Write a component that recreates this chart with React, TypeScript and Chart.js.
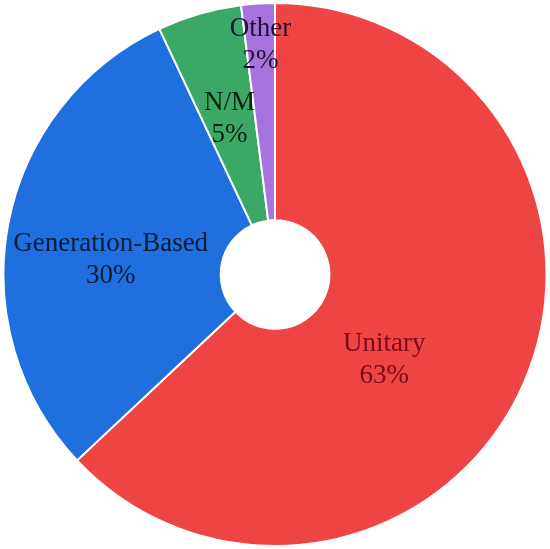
import React, { useEffect, useRef } from "react";
import { Chart, registerables } from "chart.js";

Chart.register(...registerables);

const categories = ["Unitary", "Generation-Based", "N/M", "Other"];
const shares = [63, 30, 5, 2];
const shareLabels = ["63%", "30%", "5%", "2%"];

const sliceColors = ["#EF4444", "#1F6FDE", "#3BA866", "#A774DD"];
const labelColors = ["#7A0A1E", "#0B1B3A", "#0E1F14", "#1E1030"];
// label placement within each arc: fraction along the sweep, fraction between inner/outer radius
const labelPlacement = [
  { t: 0.563, f: 0.385 },
  { t: 0.45, f: 0.51 },
  { t: 0.5, f: 0.5 },
  { t: 0.5, f: 0.815 },
];

const sliceLabelPlugin = {
  id: "sliceLabels",
  afterDatasetsDraw(chart: any) {
    const ctx = chart.ctx;
    const meta = chart.getDatasetMeta(0);
    ctx.save();
    ctx.font = '27px "Liberation Serif", "Times New Roman", serif';
    ctx.textAlign = "center";
    ctx.textBaseline = "middle";
    meta.data.forEach((arc: any, i: number) => {
      const p = arc.getProps(["x", "y", "startAngle", "endAngle", "innerRadius", "outerRadius"], true);
      const pl = labelPlacement[i];
      const a = p.startAngle + (p.endAngle - p.startAngle) * pl.t;
      const r = p.innerRadius + (p.outerRadius - p.innerRadius) * pl.f;
      const cx = p.x + Math.cos(a) * r;
      const cy = p.y + Math.sin(a) * r;
      ctx.fillStyle = labelColors[i];
      ctx.fillText(categories[i], cx, cy - 15);
      ctx.fillText(shareLabels[i], cx, cy + 17);
    });
    ctx.restore();
  },
};

export default function App() {
  const ref = useRef<HTMLCanvasElement | null>(null);
  useEffect(() => {
    if (!ref.current) return;
    const chart = new Chart(ref.current, {
      type: "doughnut",
      data: {
        labels: categories,
        datasets: [
          {
            data: shares,
            backgroundColor: sliceColors,
            borderColor: "#ffffff",
            borderWidth: 2,
          },
        ],
      },
      options: {
        animation: false,
        responsive: false,
        cutout: "20%",
        layout: { padding: 2 },
        plugins: {
          legend: { display: false },
          tooltip: { enabled: false },
        },
      },
      plugins: [sliceLabelPlugin],
    });
    return () => chart.destroy();
  }, []);
  return (
    <div style={{ position: "fixed", left: 0, top: 0, width: 550, height: 549, background: "#fff" }}>
      <canvas ref={ref} width={550} height={549} style={{ width: 550, height: 549, display: "block" }} />
    </div>
  );
}
